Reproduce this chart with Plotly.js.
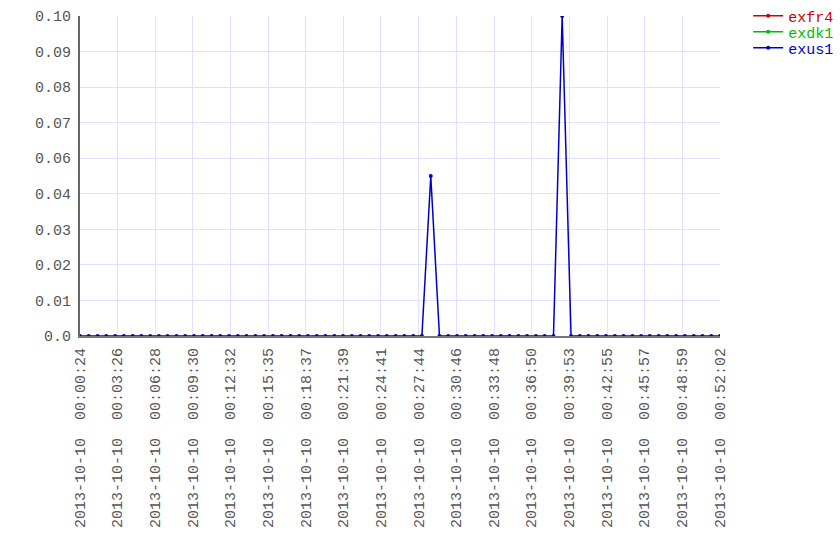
<!DOCTYPE html>
<html>
<head>
<meta charset="utf-8">
<script src="https://cdn.plot.ly/plotly-3.0.1.min.js"></script>
<style>html,body{margin:0;padding:0;background:#fff;}#chart{width:840px;height:560px;}</style>
</head>
<body>
<div id="chart"></div>
<script>
var times = [
"2013-10-10 00:00:24","2013-10-10 00:01:06","2013-10-10 00:01:49","2013-10-10 00:02:31","2013-10-10 00:03:14",
"2013-10-10 00:03:56","2013-10-10 00:04:39","2013-10-10 00:05:21","2013-10-10 00:06:04","2013-10-10 00:06:46",
"2013-10-10 00:07:28","2013-10-10 00:08:11","2013-10-10 00:08:53","2013-10-10 00:09:36","2013-10-10 00:10:18",
"2013-10-10 00:11:01","2013-10-10 00:11:43","2013-10-10 00:12:25","2013-10-10 00:13:08","2013-10-10 00:13:50",
"2013-10-10 00:14:33","2013-10-10 00:15:15","2013-10-10 00:15:58","2013-10-10 00:16:40","2013-10-10 00:17:23",
"2013-10-10 00:18:05","2013-10-10 00:18:47","2013-10-10 00:19:30","2013-10-10 00:20:12","2013-10-10 00:20:55",
"2013-10-10 00:21:37","2013-10-10 00:22:20","2013-10-10 00:23:02","2013-10-10 00:23:44","2013-10-10 00:24:27",
"2013-10-10 00:25:09","2013-10-10 00:25:52","2013-10-10 00:26:34","2013-10-10 00:27:17","2013-10-10 00:27:59",
"2013-10-10 00:28:42","2013-10-10 00:29:24","2013-10-10 00:30:06","2013-10-10 00:30:49","2013-10-10 00:31:31",
"2013-10-10 00:32:14","2013-10-10 00:32:56","2013-10-10 00:33:39","2013-10-10 00:34:21","2013-10-10 00:35:03",
"2013-10-10 00:35:46","2013-10-10 00:36:28","2013-10-10 00:37:11","2013-10-10 00:37:53","2013-10-10 00:38:36",
"2013-10-10 00:39:18","2013-10-10 00:40:01","2013-10-10 00:40:43","2013-10-10 00:41:25","2013-10-10 00:42:08",
"2013-10-10 00:42:50","2013-10-10 00:43:33","2013-10-10 00:44:15","2013-10-10 00:44:58","2013-10-10 00:45:40",
"2013-10-10 00:46:22","2013-10-10 00:47:05","2013-10-10 00:47:47","2013-10-10 00:48:30","2013-10-10 00:49:12",
"2013-10-10 00:49:55","2013-10-10 00:50:37","2013-10-10 00:51:20","2013-10-10 00:52:02"
];
// exfr4 and exdk1 are not visible in the reference (hidden under exus1 / no visible data)
var exfr4 = [];
var exdk1 = [];
var exus1 = [0,0,0,0,0,0,0,0,0,0, 0,0,0,0,0,0,0,0,0,0, 0,0,0,0,0,0,0,0,0,0, 0,0,0,0,0,0,0,0,0,0,
             0.05,0,0,0,0,0,0,0,0,0, 0,0,0,0,0,0.10,0,0,0,0, 0,0,0,0,0,0,0,0,0,0, 0,0,0,0];
var seriesNames = ["exfr4","exdk1","exus1"];
var xTickVals = [
"2013-10-10 00:00:24","2013-10-10 00:03:26","2013-10-10 00:06:28","2013-10-10 00:09:30","2013-10-10 00:12:32",
"2013-10-10 00:15:35","2013-10-10 00:18:37","2013-10-10 00:21:39","2013-10-10 00:24:41","2013-10-10 00:27:44",
"2013-10-10 00:30:46","2013-10-10 00:33:48","2013-10-10 00:36:50","2013-10-10 00:39:53","2013-10-10 00:42:55",
"2013-10-10 00:45:57","2013-10-10 00:48:59","2013-10-10 00:52:02"
];
var xTickText = xTickVals.map(function(s){ return s.replace(" ", "\u00a0\u00a0"); });
var yTickVals = [0, 0.0111111, 0.0222222, 0.0333333, 0.0444444, 0.0555556, 0.0666667, 0.0777778, 0.0888889, 0.1];
var yTickText = ["0.0","0.01","0.02","0.03","0.04","0.06","0.07","0.08","0.09","0.10"];

var colors = ["#cc0000","#00bb00","#0000cc"];
var data = [exfr4, exdk1, exus1];
var legendIds = ["legend","legend2","legend3"];
var traces = data.map(function(vals, i){
  return {
    x: vals.length ? times : [null], y: vals.length ? vals : [null],
    type: "scatter", mode: "lines+markers",
    name: '<span style="color:' + colors[i] + '">' + seriesNames[i] + '</span>',
    line: {color: colors[i], width: 1.5},
    marker: {color: colors[i], size: 4},
    legend: legendIds[i],
    showlegend: true,
    hoverinfo: "x+y"
  };
});

var fam = "Liberation Mono, Courier New, monospace";
var font = {family: fam, size: 15, color: "#555"};
function leg(y){
  return {x: 1.044, xanchor: "left", y: y, yanchor: "top", bgcolor: "rgba(0,0,0,0)",
          font: {family: fam, size: 15}, itemwidth: 30};
}
var layout = {
  width: 840, height: 560,
  margin: {l: 80, r: 120, t: 16, b: 224, pad: 0, autoexpand: false},
  paper_bgcolor: "#fff", plot_bgcolor: "#fff",
  font: font,
  showlegend: true,
  legend: leg(1.0516),
  legend2: leg(1.0016),
  legend3: leg(0.9516),
  xaxis: {
    type: "date",
    range: [times[0], times[times.length-1]],
    tickmode: "array", tickvals: xTickVals, ticktext: xTickText,
    tickangle: -90, ticks: "", ticklabelstandoff: 4,
    showgrid: true, gridcolor: "#e0e0ff", gridwidth: 1,
    showline: true, linecolor: "#777", linewidth: 2,
    zeroline: false, tickfont: font
  },
  yaxis: {
    range: [0, 0.1],
    tickmode: "array", tickvals: yTickVals, ticktext: yTickText,
    ticks: "", ticklabelstandoff: 4,
    showgrid: true, gridcolor: "#e0e0ff", gridwidth: 1,
    showline: true, linecolor: "#666", linewidth: 2,
    zeroline: false, tickfont: font
  }
};
Plotly.newPlot("chart", traces, layout, {displayModeBar: false, staticPlot: true});
</script>
</body>
</html>
